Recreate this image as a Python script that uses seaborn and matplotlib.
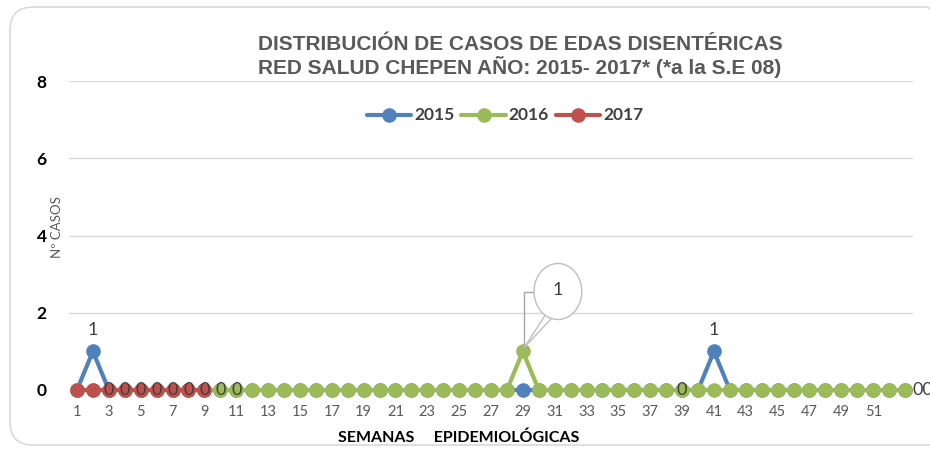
import matplotlib
matplotlib.use("Agg")
import matplotlib.pyplot as plt
import matplotlib.transforms as mtransforms
import seaborn as sns
import pandas as pd
from matplotlib.patches import FancyBboxPatch, Ellipse

# Datos: semanas epidemiologicas y casos por anio
semanas = list(range(1, 54))
casos_2015 = [0, 1, 0, 0, 0, 0, 0, 0, 0, 0, 0, 0, 0, 0, 0, 0, 0, 0,
              0, 0, 0, 0, 0, 0, 0, 0, 0, 0, 0, 0, 0, 0, 0, 0, 0, 0,
              0, 0, 0, 0, 1, 0, 0, 0, 0, 0, 0, 0, 0, 0, 0, 0, 0]
casos_2016 = [0, 0, 0, 0, 0, 0, 0, 0, 0, 0, 0, 0, 0, 0, 0, 0, 0, 0,
              0, 0, 0, 0, 0, 0, 0, 0, 0, 0, 1, 0, 0, 0, 0, 0, 0, 0,
              0, 0, 0, 0, 0, 0, 0, 0, 0, 0, 0, 0, 0, 0, 0, 0, 0]
casos_2017 = [0, 0, 0, 0, 0, 0, 0, 0, 0]
etiquetas_x = [str(s) if (s % 2 == 1 and s <= 51) else "" for s in semanas]
semanas_cero = [3, 4, 5, 6, 7, 8, 9, 10, 11, 39]

colores = {"2015": "#4F81BD", "2016": "#9BBB59", "2017": "#C0504D"}
series = {"2015": casos_2015, "2016": casos_2016, "2017": casos_2017}

sns.set_style("white")
plt.rcParams["font.family"] = ["Lato", "DejaVu Sans"]

fig = plt.figure(figsize=(9.3, 4.49), dpi=100)
ax = fig.add_axes([69 / 930, 1 - 390 / 449, (913 - 69) / 930, (390 - 81) / 449])

# Lineas de cada anio
for i, (anio, valores) in enumerate(series.items()):
    df = pd.DataFrame({"semana": semanas[:len(valores)], "casos": valores})
    sns.lineplot(data=df, x="semana", y="casos", ax=ax, color=colores[anio],
                 marker="o", markersize=10.5, markeredgewidth=0, linewidth=3,
                 label=anio, clip_on=False, zorder=3 + i)

ax.set_xlim(0.5, 53.5)
ax.set_ylim(0, 8)
ax.set_yticks([0, 2, 4, 6, 8])
ax.set_yticklabels(["0", "2", "4", "6", "8"], fontsize=12.5, fontweight="bold", color="black")
ax.set_xticks(semanas)
ax.set_xticklabels(etiquetas_x, fontsize=10.5, color="#595959")
desplaza = mtransforms.ScaledTranslation(-6 / 100, 0, fig.dpi_scale_trans)
for lbl in ax.get_xticklabels():
    lbl.set_transform(lbl.get_transform() + desplaza)
ax.tick_params(axis="both", length=0)
ax.tick_params(axis="x", pad=11)
ax.tick_params(axis="y", pad=16)
ax.grid(axis="y", color="#d9d9d9", linewidth=1)
for s in ax.spines.values():
    s.set_visible(False)
ax.set_xlabel("")
ax.set_ylabel("")

# Etiquetas de datos
for s, v in zip(semanas, casos_2015):
    if v > 0:
        ax.text(s, v + 0.35, str(v), ha="center", va="bottom", fontsize=13, color="#404040", zorder=10)
for s in semanas_cero:
    ax.text(s, 0, "0", ha="center", va="center", fontsize=13, color="#404040", zorder=10, clip_on=False)
ax.text(53.45, 0, "00", ha="left", va="center", fontsize=13, color="#404040", zorder=10, clip_on=False)

# Llamada (callout) para 2016
pico = casos_2016.index(1) + 1
ax.add_patch(Ellipse((pico + 2.2, 2.55), 3.0, 1.45, facecolor="white", edgecolor="#bfbfbf",
                     linewidth=1, zorder=8, clip_on=False))
ax.annotate("", xy=(pico, 1.05), xytext=(pico + 1.7, 1.95),
            arrowprops=dict(arrowstyle="wedge,tail_width=0.5", fc="white", ec="#bfbfbf", lw=1),
            zorder=7)
ax.plot([pico + 0.1, pico + 0.1, pico + 0.8], [1.05, 2.55, 2.55], color="#a6a6a6", linewidth=1, zorder=6)
ax.text(pico + 2.2, 2.6, "1", ha="center", va="center", fontsize=13, color="#404040", zorder=9)

# Leyenda
leg = ax.legend(loc="center", bbox_to_anchor=(505 / 930, 1 - 115 / 449),
                bbox_transform=fig.transFigure, ncol=3, frameon=False,
                handlelength=3.2, columnspacing=0.5, handletextpad=0.2)
for t in leg.get_texts():
    t.set_fontweight("bold")
    t.set_fontsize(12.5)
    t.set_color("#404040")

# Titulo y ejes
fig.text(520 / 930, 1 - 45 / 449, "DISTRIBUCIÓN DE CASOS DE EDAS DISENTÉRICAS",
         ha="center", va="center", fontsize=15, fontweight="bold", color="#595959",
         family="Liberation Sans")
fig.text(520 / 930, 1 - 67 / 449, "RED SALUD CHEPEN AÑO: 2015- 2017* (*a la S.E 08)",
         ha="center", va="center", fontsize=15, fontweight="bold", color="#595959",
         family="Liberation Sans")
fig.text(459 / 930, 1 - 438 / 449, "SEMANAS     EPIDEMIOLÓGICAS", ha="center", va="center",
         fontsize=11.5, fontweight="bold", color="black")
fig.text(57 / 930, 1 - 227 / 449, "Nº CASOS", ha="center", va="center", rotation=90,
         fontsize=9.5, color="#595959")

# Borde redondeado del grafico
borde = FancyBboxPatch((10 / 930, 4 / 449), 940 / 930, 438 / 449,
                       boxstyle="round,pad=0,rounding_size=0.025", mutation_aspect=930 / 449,
                       transform=fig.transFigure, facecolor="none", edgecolor="#d9d9d9",
                       linewidth=1.2)
fig.patches.append(borde)

fig.savefig("out.png", dpi=100)
